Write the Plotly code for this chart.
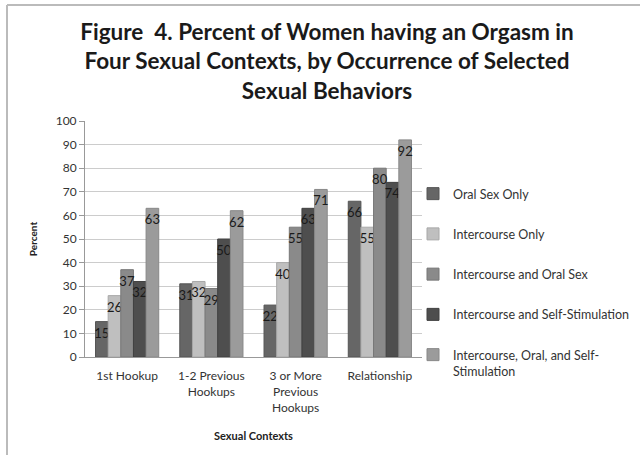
import plotly.graph_objects as go

categories = ["1st Hookup", "1-2 Previous<br>Hookups", "3 or More<br>Previous<br>Hookups", "Relationship"]
series_names = [
    "Oral Sex Only",
    "Intercourse Only",
    "Intercourse and Oral Sex",
    "Intercourse and Self-Stimulation",
    "Intercourse, Oral, and Self-<br>Stimulation",
]
oral_only = [15, 31, 22, 66]
intercourse_only = [26, 32, 40, 55]
intercourse_oral = [37, 29, 55, 80]
intercourse_self = [32, 50, 63, 74]
intercourse_oral_self = [63, 62, 71, 92]
series_values = [oral_only, intercourse_only, intercourse_oral, intercourse_self, intercourse_oral_self]
y_ticks = [0, 10, 20, 30, 40, 50, 60, 70, 80, 90, 100]

colors = ["#666666", "#bfbfbf", "#8a8a8a", "#4e4e4e", "#9b9b9b"]
edges = ["#555555", "#a8a8a8", "#777777", "#404040", "#888888"]

FONT = "Lato, Open Sans, sans-serif"

fig = go.Figure()
for i, (name, vals) in enumerate(zip(series_names, series_values)):
    fig.add_trace(go.Bar(
        x=categories, y=vals, name=name,
        marker=dict(color=colors[i], line=dict(color=edges[i], width=1)),
        text=[str(v) for v in vals],
        textposition="inside", insidetextanchor="end", textangle=0,
        constraintext="none",
        insidetextfont=dict(family=FONT, size=13, color="#1a1a1a"),
        legendgroup=f"g{i}",
        cliponaxis=False,
    ))

W, H = 640, 455
L, R, T, B = 85, 218, 121, 98
pw = W - L - R
ph = H - T - B

fig.update_layout(
    width=W, height=H,
    margin=dict(l=L, r=R, t=T, b=B, pad=0, autoexpand=False),
    paper_bgcolor="white", plot_bgcolor="white",
    font=dict(family=FONT, size=11, color="#333333"),
    barmode="group", bargap=0.25, bargroupgap=0,
    title=dict(
        text="Figure  4. Percent of Women having an Orgasm in<br>Four Sexual Contexts, by Occurrence of Selected<br>Sexual Behaviors",
        x=(327) / W, xanchor="center", y=1 - 40 / H, yanchor="top",
        font=dict(family=FONT, size=22.5, color="#1a1a1a", weight="bold"),
    ),
    legend=dict(
        x=(413 - L) / pw, xanchor="left", y=(H - B - 179) / ph, yanchor="top",
        traceorder="grouped", tracegroupgap=21, valign="top",
        font=dict(family=FONT, size=12.5, color="#333333"),
        bgcolor="rgba(0,0,0,0)", itemwidth=30,
    ),
    xaxis=dict(
        showline=True, linecolor="#999999", linewidth=1,
        ticks="", tickfont=dict(size=12, color="#333333"),
        ticklabelstandoff=8,
        title=dict(text="<b>Sexual Contexts</b>", font=dict(size=11, color="#222222"), standoff=18),
    ),
    yaxis=dict(
        range=[0, 100], tickvals=y_ticks,
        showline=True, linecolor="#999999", linewidth=1,
        ticks="outside", ticklen=5, tickcolor="#999999",
        gridcolor="#cccccc", gridwidth=1, zeroline=False,
        tickfont=dict(size=12, color="#333333"),
        title=dict(text="<b>Percent</b>", font=dict(size=10, color="#222222"), standoff=16),
    ),
    showlegend=True,
)

# outer chart border (only top & left edges visible in the crop)
fig.add_shape(type="line", xref="paper", yref="paper",
              x0=(7 - L) / pw, x1=(W - L) / pw,
              y0=(H - B - 5) / ph, y1=(H - B - 5) / ph,
              line=dict(color="#bbbbbb", width=2))
fig.add_shape(type="line", xref="paper", yref="paper",
              x0=(7 - L) / pw, x1=(7 - L) / pw,
              y0=(H - B - 5) / ph, y1=(H - B - H) / ph,
              line=dict(color="#bbbbbb", width=2))

fig.write_html("out.html")
